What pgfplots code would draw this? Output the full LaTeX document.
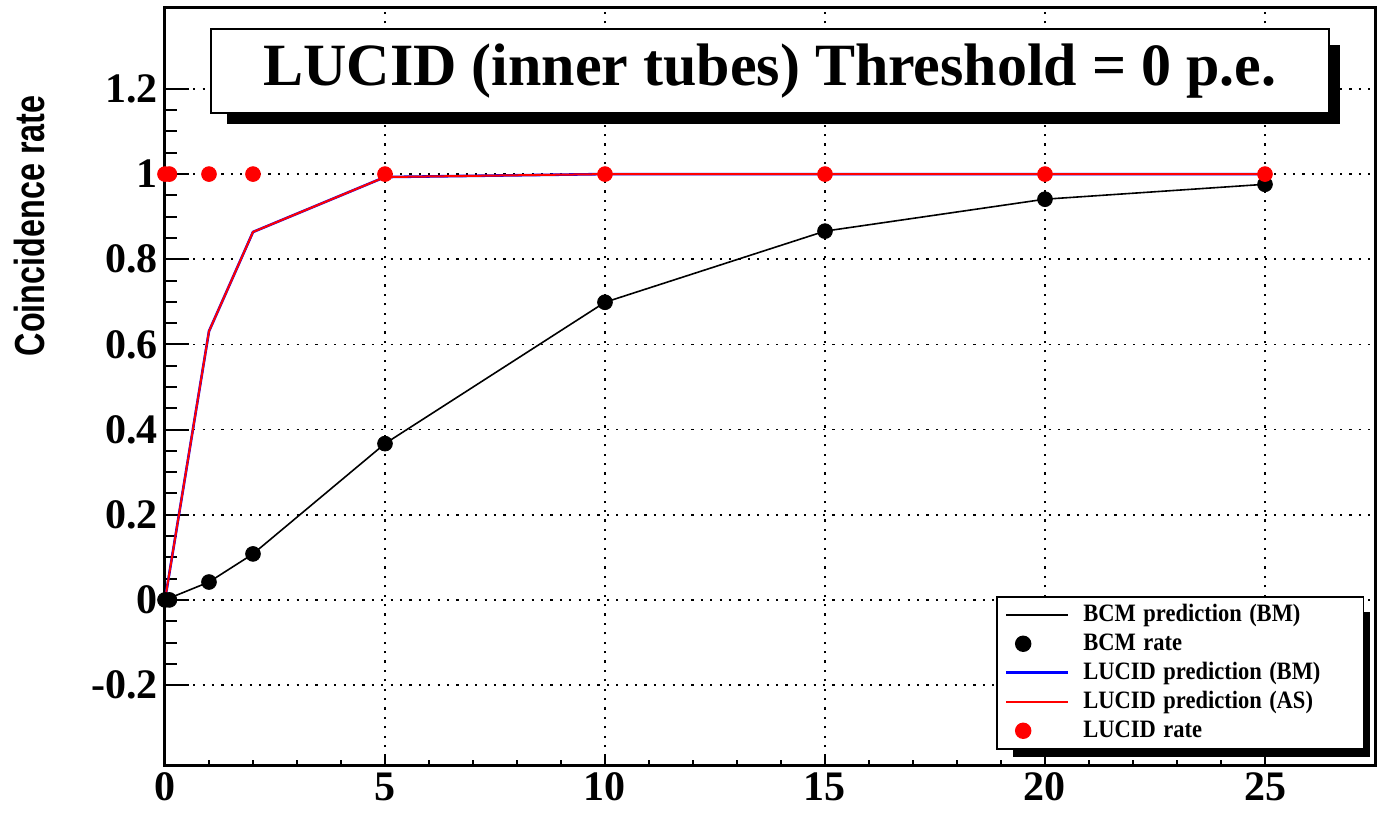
\documentclass[border=0pt]{standalone}
\usepackage{fontspec}
\setmainfont{Liberation Serif}
\setsansfont{Liberation Sans}
\usepackage{graphicx}
\usepackage{pgfplots}
\pgfplotsset{compat=1.18}
\pgfplotsset{linelegend/.style={legend image code/.code={\draw[##1] (0pt,0pt) -- (31pt,0pt);}}}
\newcommand{\legtxt}[1]{\scalebox{0.9}[1]{#1}}

\pgfplotstableread{
x y e
0 0 0
0.1 0 0
1 0.042 0.002
2 0.108 0.003
5 0.367 0.004
10 0.699 0.004
15 0.866 0.006
20 0.941 0.010
25 0.976 0.012
}\bcmrate
\pgfplotstableread{
x y
0 0
1 0.042
2 0.108
5 0.367
10 0.699
15 0.866
20 0.941
25 0.976
}\bcmpred
\pgfplotstableread{
x y
0 0
1 0.631
2 0.864
5 0.993
10 1.0
15 1.0
20 1.0
25 1.0
}\lucidpred
\pgfplotstableread{
x y
0 1
0.1 1
1 1
2 1
5 1
10 1
15 1
20 1
25 1
}\lucidrate

\begin{document}
\begin{tikzpicture}
\begin{axis}[
  scale only axis, width=605pt, height=379pt,
  xmin=0, xmax=27.5, ymin=-0.39, ymax=1.39,
  xtick={0,5,10,15,20,25},
  ytick={-0.2,0,0.2,0.4,0.6,0.8,1,1.2},
  minor x tick num=4, minor y tick num=3,
  tick align=inside, xtick pos=bottom, ytick pos=left,
  major tick length=12pt, minor tick length=6pt,
  xtick style={/pgfplots/major tick length=5pt,/pgfplots/minor tick length=3pt},
  tick style={black, line width=1pt},
  grid=major,
  major grid style={black, line width=0.9pt, dash pattern=on 1.1pt off 3.6pt},
  axis line style={line width=1.5pt},
  /pgf/number format/assume math mode=true,
  tick label style={font=\bfseries\fontsize{21}{21}\selectfont},
  ylabel={\scalebox{0.77}[1]{Coincidence rate}},
  ylabel style={font=\sffamily\bfseries\fontsize{21}{21}\selectfont, at={(axis description cs:-0.112,0.885)}, anchor=east, inner sep=0pt},
  legend style={at={(axis description cs:0.6868,0.2243)}, anchor=north west, draw=black, line width=0.8pt, fill=white,
    font=\bfseries\fontsize{12.5}{13}\selectfont, row sep=0.5pt, inner xsep=4pt, inner ysep=2pt,
    nodes={text width=135pt, align=left, minimum height=14pt, inner sep=1pt},
    /tikz/every odd column/.append style={column sep=6pt}},
  legend cell align=left,
]
\addplot[black, line width=0.8pt, linelegend] table[x=x,y=y] {\bcmpred};
\addlegendentry{\legtxt{BCM prediction (BM)}}
\addplot[black, only marks, mark=*, mark size=3.7pt, error bars/.cd, y dir=both, y explicit, error bar style={line width=0.8pt}, error mark=none]
  table[x=x,y=y,y error=e] {\bcmrate};
\addlegendentry{\legtxt{BCM rate}}
\addplot[blue, line width=1.3pt, linelegend] table[x=x,y=y] {\lucidpred};
\addlegendentry{\legtxt{LUCID prediction (BM)}}
\addplot[red, line width=1pt, linelegend] table[x=x,y=y] {\lucidpred};
\addlegendentry{\legtxt{LUCID prediction (AS)}}
\addplot[red, only marks, mark=*, mark size=3.7pt] table[x=x,y=y] {\lucidrate};
\addlegendentry{\legtxt{LUCID rate}}
% legend shadow
\fill[black] (axis description cs:0.7008,0.0119) rectangle (axis description cs:0.9959,0.2032);
% title box
\fill[black] (axis description cs:0.0512,0.8470) rectangle (axis description cs:0.9711,0.9512);
\filldraw[fill=white, draw=black, line width=0.8pt] (axis description cs:0.0380,0.8615) rectangle (axis description cs:0.9620,0.9723);
\node[font=\bfseries\fontsize{30}{30}\selectfont] at (axis description cs:0.5,0.9169) {LUCID (inner tubes) Threshold = 0 p.e.};
\end{axis}
\pgfresetboundingbox
\path (-82.5pt,-23.5pt) rectangle (606.5pt,383pt);
\end{tikzpicture}
\end{document}
